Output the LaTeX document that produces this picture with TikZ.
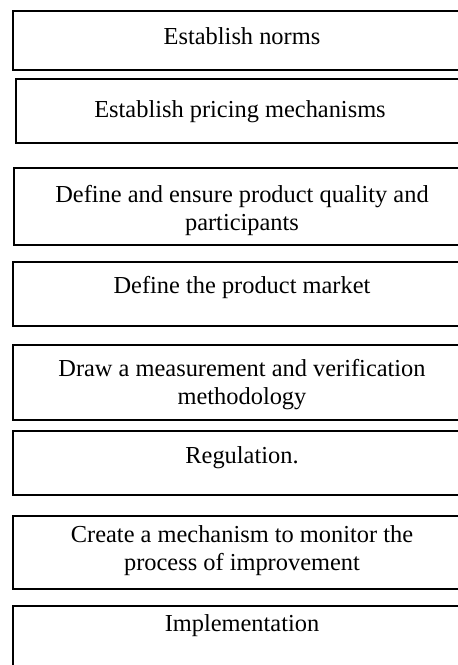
\documentclass[tikz,border=0pt]{standalone}
\usepackage{fontspec}
\setmainfont{Liberation Serif}
\tikzset{stepbox/.style={draw, line width=0.9pt},
  steptext/.style={anchor=base, align=center, font=\fontsize{12.2}{14}\selectfont}}
\begin{document}
\begin{tikzpicture}[x=0.5pt, y=-0.5pt]
\def\boxright{475}% boxes run off the right edge of the page
\useasboundingbox (0,0) rectangle (458,665);
\clip (0,0) rectangle (458,665);
% the boxes, top to bottom
\draw[stepbox] (13,11) rectangle (\boxright,70);
\draw[stepbox] (16,79) rectangle (\boxright,143);
\draw[stepbox] (14,168) rectangle (\boxright,245);
\draw[stepbox] (13,262) rectangle (\boxright,326);
\draw[stepbox] (13,345) rectangle (\boxright,420);
\draw[stepbox] (13,431) rectangle (\boxright,495);
\draw[stepbox] (13,516) rectangle (\boxright,589);
\draw[stepbox] (13,606) rectangle (\boxright,690);
% texts (base = last line)
\node[steptext] (norms) at (242,44) {Establish norms};
\node[steptext] (pricing) at (240,117) {Establish pricing mechanisms};
\node[steptext] (quality) at (242,230) {Define and ensure product quality and\\participants};
\node[steptext] (market) at (242,293) {Define the product market};
\node[steptext] (method) at (242,404) {Draw a measurement and verification\\methodology};
\node[steptext] (regul) at (242,463) {Regulation.};
\node[steptext] (monitor) at (242,570) {Create a mechanism to monitor the\\process of improvement};
\node[steptext] (impl) at (242,631) {Implementation};
\end{tikzpicture}
\end{document}
